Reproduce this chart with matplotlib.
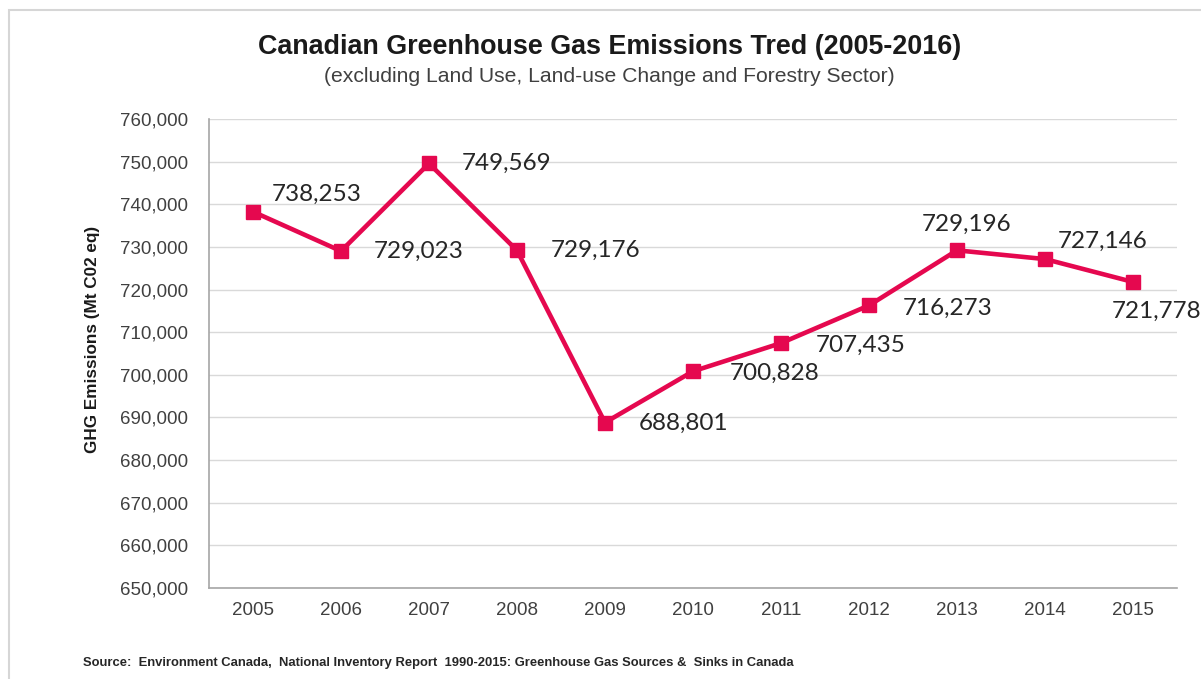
import matplotlib.pyplot as plt
from matplotlib.patches import Rectangle
from matplotlib.ticker import FuncFormatter

years = ["2005", "2006", "2007", "2008", "2009", "2010",
         "2011", "2012", "2013", "2014", "2015"]
emissions = [738253, 729023, 749569, 729176, 688801, 700828,
             707435, 716273, 729196, 727146, 721778]

# label placement per point: (dx, dy) in pixels, horizontal alignment
label_pos = [(19, 17, "left"), (33, 0, "left"), (33, 0, "left"),
             (34, 0, "left"), (34, -1, "left"), (37, -2, "left"),
             (35, -2, "left"), (34, -3, "left"), (10, 26, "center"),
             (13, 18, "left"), (-21, -29, "left")]

LINE = "#E5084F"
GRID = "#D9D9D9"
TXT = "#404040"
W, H = 1201, 679

fig = plt.figure(figsize=(W / 100, H / 100), dpi=100)
fig.patches.append(Rectangle((9 / W, -0.1), 1.2, (H - 10) / H + 0.1,
                             transform=fig.transFigure, fill=False,
                             edgecolor="#D6D6D6", linewidth=1.5))

ax = fig.add_axes([209 / W, (H - 588) / H, (1177 - 209) / W, (588 - 119) / H])
x = range(len(years))
ax.plot(x, emissions, color=LINE, linewidth=3.3, marker="s",
        markersize=10, zorder=3)

for i, (v, (dx, dy, ha)) in enumerate(zip(emissions, label_pos)):
    ax.annotate(f"{v:,}", (i, v), xytext=(dx * 0.72, dy * 0.72),
                textcoords="offset points", ha=ha, va="center",
                fontsize=17.5, family="Lato", color="#262626",
                annotation_clip=False, clip_on=False)

ax.set_xlim(-0.5, len(years) - 0.5)
ax.set_ylim(650000, 760000)
ax.set_yticks(range(650000, 760001, 10000))
ax.yaxis.set_major_formatter(FuncFormatter(lambda v, p: f"{int(v):,}"))
ax.set_xticks(list(x))
ax.set_xticklabels(years)
ax.tick_params(length=0, labelsize=13.5, labelcolor=TXT)
ax.tick_params(axis="y", pad=15)
ax.tick_params(axis="x", pad=10)
for lab in ax.get_xticklabels() + ax.get_yticklabels():
    lab.set_family("Liberation Sans")
ax.grid(axis="y", color=GRID, linewidth=1)
ax.set_axisbelow(True)
for s in ["top", "right"]:
    ax.spines[s].set_visible(False)
for s in ["left", "bottom"]:
    ax.spines[s].set_color("#A6A6A6")
    ax.spines[s].set_linewidth(1.2)

fig.text(93 / W, 1 - 339 / H, "GHG Emissions (Mt C02 eq)", rotation=90,
         ha="center", va="center", fontsize=12.3, fontweight="bold",
         family="Liberation Sans", color="#1a1a1a")

fig.text(610 / W, 1 - 47 / H, "Canadian Greenhouse Gas Emissions Tred (2005-2016)",
         ha="center", va="center", fontsize=19.4, fontweight="bold",
         family="Liberation Sans", color="#1a1a1a")
fig.text(609 / W, 1 - 76 / H,
         "(excluding Land Use, Land-use Change and Forestry Sector)",
         ha="center", va="center", fontsize=15.2, family="Liberation Sans",
         color=TXT)
fig.text(83 / W, 1 - 663 / H,
         "Source:  Environment Canada,  National Inventory Report  1990-2015: "
         "Greenhouse Gas Sources &  Sinks in Canada",
         ha="left", va="center", fontsize=9.4, fontweight="bold",
         family="Liberation Sans", color="#262626")

fig.savefig("out.png", dpi=100)
